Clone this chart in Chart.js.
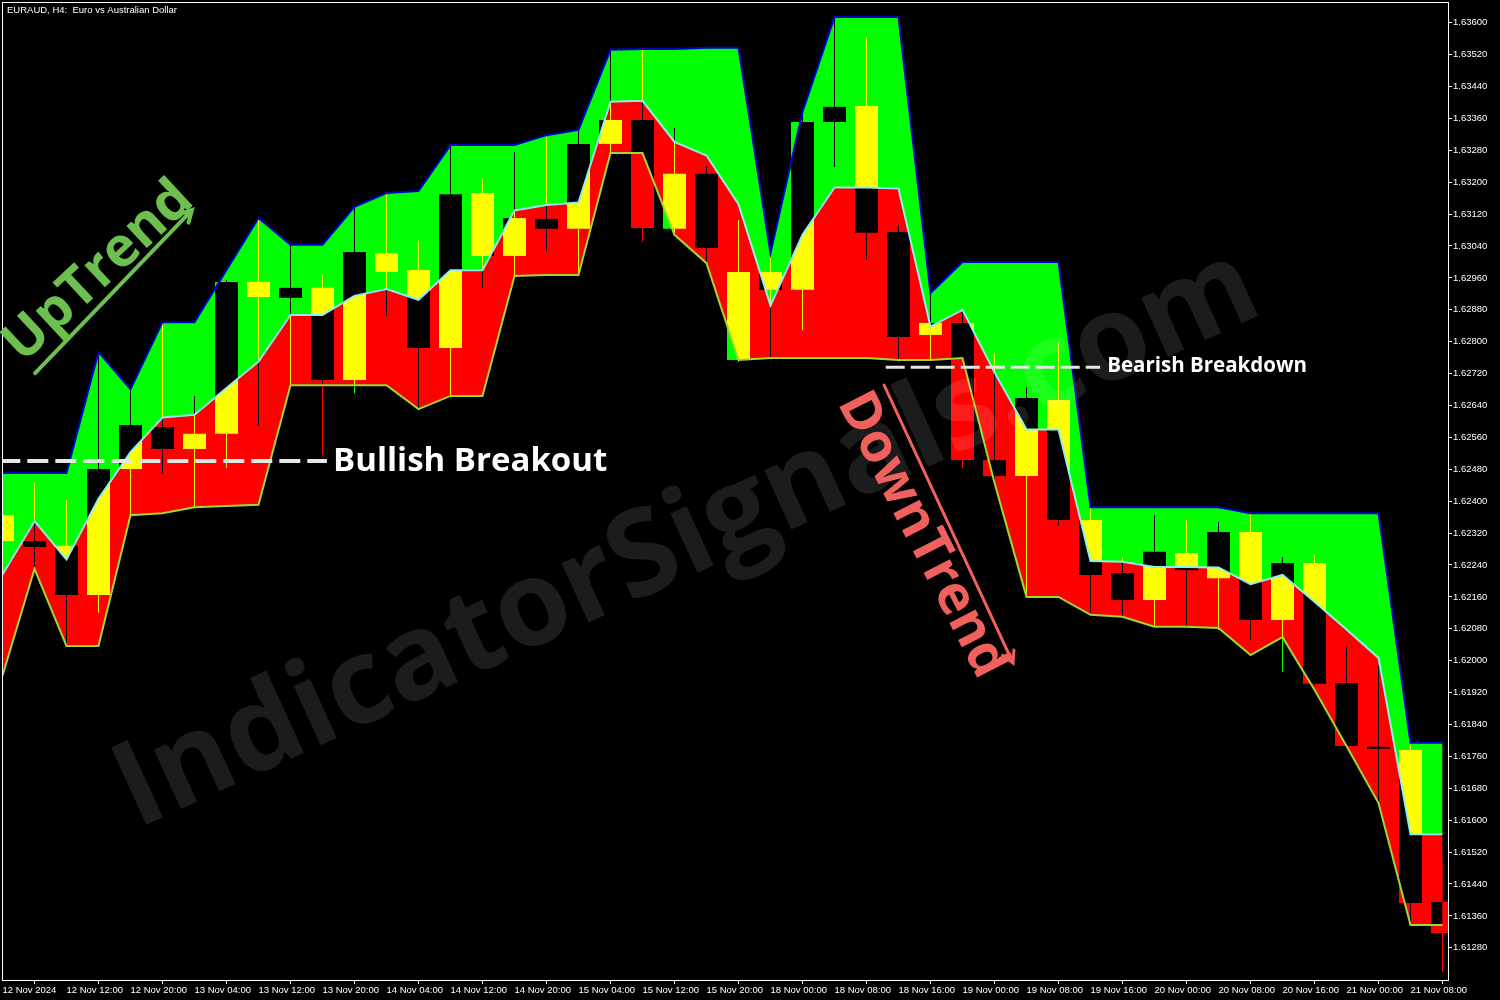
<!DOCTYPE html>
<html>
<head>
<meta charset="utf-8">
<script src="https://cdn.jsdelivr.net/npm/chart.js@4.4.1/dist/chart.umd.min.js"></script>
<style>
  html, body { margin: 0; padding: 0; background: #000; }
  canvas { display: block; }
</style>
</head>
<body>
<canvas id="chart" width="1500" height="1000"></canvas>
<script>
// EURAUD H4 - one entry per bar, tick label on every second bar
const timeLabels = [
  "12 Nov 2024", "12 Nov 12:00", "12 Nov 20:00", "13 Nov 04:00", "13 Nov 12:00",
  "13 Nov 20:00", "14 Nov 04:00", "14 Nov 12:00", "14 Nov 20:00", "15 Nov 04:00",
  "15 Nov 12:00", "15 Nov 20:00", "18 Nov 00:00", "18 Nov 08:00", "18 Nov 16:00",
  "19 Nov 00:00", "19 Nov 08:00", "19 Nov 16:00", "20 Nov 00:00", "20 Nov 08:00",
  "20 Nov 16:00", "21 Nov 00:00", "21 Nov 08:00"
];

const priceTicks = [
  1.6128, 1.6136, 1.6144, 1.6152, 1.6160, 1.6168, 1.6176, 1.6184, 1.6192, 1.6200,
  1.6208, 1.6216, 1.6224, 1.6232, 1.6240, 1.6248, 1.6256, 1.6264, 1.6272, 1.6280,
  1.6288, 1.6296, 1.6304, 1.6312, 1.6320, 1.6328, 1.6336, 1.6344, 1.6352, 1.6360
];

const opens = [
  1.62365, 1.62300, 1.62288, 1.62165, 1.62481, 1.62586, 1.62531, 1.62569, 1.62950, 1.62910,
  1.62935, 1.62704, 1.63022, 1.62980, 1.62784, 1.63173, 1.63015, 1.63108, 1.63083, 1.63296,
  1.63356, 1.63083, 1.63221, 1.62754, 1.62975, 1.62930, 1.63351, 1.63391, 1.63075, 1.62817,
  1.62847, 1.62503, 1.62463, 1.62654, 1.62353, 1.62220, 1.62152, 1.62270, 1.62207, 1.62323,
  1.62102, 1.62245, 1.61944, 1.61784, 1.61776, 1.61395
];
const highs = [
  1.62391, 1.62446, 1.62403, 1.62774, 1.62681, 1.62849, 1.62664, 1.62955, 1.63110, 1.63043,
  1.62967, 1.63138, 1.63170, 1.63053, 1.63293, 1.63208, 1.63276, 1.63313, 1.63328, 1.63532,
  1.63534, 1.63336, 1.63241, 1.63105, 1.63022, 1.63376, 1.63614, 1.63562, 1.63093, 1.62922,
  1.62875, 1.62772, 1.62686, 1.62797, 1.62385, 1.62258, 1.62365, 1.62353, 1.62348, 1.62370,
  1.62260, 1.62265, 1.62034, 1.61989, 1.61789, 1.61508
];
const lows = [
  1.62273, 1.62230, 1.62037, 1.62120, 1.62365, 1.62471, 1.62385, 1.62483, 1.62591, 1.62691,
  1.62516, 1.62671, 1.62864, 1.62631, 1.62664, 1.62935, 1.62965, 1.63027, 1.62967, 1.63273,
  1.63050, 1.63073, 1.62997, 1.62749, 1.62759, 1.62829, 1.63238, 1.63005, 1.62749, 1.62754,
  1.62483, 1.62446, 1.62160, 1.62340, 1.62120, 1.62110, 1.62085, 1.62085, 1.62077, 1.62052,
  1.61972, 1.61937, 1.61784, 1.61643, 1.61337, 1.61219
];
const closes = [
  1.62300, 1.62285, 1.62165, 1.62481, 1.62591, 1.62531, 1.62569, 1.62950, 1.62912, 1.62935,
  1.62704, 1.63025, 1.62975, 1.62784, 1.63170, 1.63015, 1.63110, 1.63083, 1.63296, 1.63356,
  1.63085, 1.63221, 1.63035, 1.62975, 1.62930, 1.63351, 1.63389, 1.63073, 1.62812, 1.62847,
  1.62503, 1.62463, 1.62659, 1.62353, 1.62215, 1.62152, 1.62273, 1.62227, 1.62323, 1.62102,
  1.62245, 1.61942, 1.61786, 1.61779, 1.61392, 1.61317
];

// channel indicator
const upperBand = [
  1.62471, 1.62471, 1.62471, 1.62774, 1.62681, 1.62849, 1.62849, 1.62980, 1.63110, 1.63043,
  1.63043, 1.63138, 1.63173, 1.63178, 1.63293, 1.63293, 1.63293, 1.63318, 1.63331, 1.63532,
  1.63534, 1.63534, 1.63537, 1.63537, 1.63022, 1.63376, 1.63614, 1.63614, 1.63614, 1.62922,
  1.63000, 1.63000, 1.63000, 1.63000, 1.62385, 1.62385, 1.62385, 1.62385, 1.62385, 1.62370,
  1.62370, 1.62370, 1.62370, 1.62370, 1.61794, 1.61794
];
const middleBand = [
  1.62216, 1.62350, 1.62254, 1.62406, 1.62523, 1.62610, 1.62617, 1.62684, 1.62750, 1.62867,
  1.62867, 1.62915, 1.62932, 1.62905, 1.62979, 1.62979, 1.63129, 1.63143, 1.63149, 1.63402,
  1.63404, 1.63301, 1.63267, 1.63145, 1.62891, 1.63068, 1.63187, 1.63187, 1.63184, 1.62838,
  1.62880, 1.62723, 1.62580, 1.62580, 1.62250, 1.62248, 1.62235, 1.62235, 1.62234, 1.62192,
  1.62215, 1.62148, 1.62078, 1.62007, 1.61565, 1.61565
];
const lowerBand = [
  1.61962, 1.62230, 1.62037, 1.62037, 1.62365, 1.62370, 1.62385, 1.62388, 1.62391, 1.62691,
  1.62691, 1.62691, 1.62691, 1.62631, 1.62664, 1.62664, 1.62965, 1.62967, 1.62967, 1.63273,
  1.63273, 1.63068, 1.62997, 1.62754, 1.62759, 1.62759, 1.62759, 1.62759, 1.62754, 1.62754,
  1.62759, 1.62446, 1.62160, 1.62160, 1.62115, 1.62110, 1.62085, 1.62085, 1.62082, 1.62014,
  1.62059, 1.61927, 1.61786, 1.61643, 1.61337, 1.61337
];

// annotation levels
const bullishLevel = 1.62501;
const bearishLevel = 1.62736;

const idx = opens.map((_, i) => i);
const bodies = idx.map(i => ({ x: i, y: [opens[i], closes[i]] }));
const upperWicks = idx.map(i => ({ x: i, y: [Math.max(opens[i], closes[i]), highs[i]] }));
const lowerWicks = idx.map(i => ({ x: i, y: [lows[i], Math.min(opens[i], closes[i])] }));
// MT draws candles XOR-ed over the fill: bull = green, bear = red, blended with 'difference'
const candleColors = idx.map(i => closes[i] >= opens[i] ? "#00ff00" : "#ff0000");
const band = arr => arr.map((v, i) => ({ x: i, y: v }));

const axisFont = { family: "Liberation Sans", size: 9.5 };

const backgroundPlugin = {
  id: "background",
  beforeDraw(chart) {
    const c = chart.ctx;
    c.save();
    c.fillStyle = "#000";
    c.fillRect(0, 0, chart.width, chart.height);
    c.restore();
  }
};

const blendPlugin = {
  id: "candleBlend",
  beforeDatasetDraw(chart, args) {
    if (chart.data.datasets[args.index].candle) {
      chart.ctx.save();
      chart.ctx.globalCompositeOperation = "difference";
    }
  },
  afterDatasetDraw(chart, args) {
    if (chart.data.datasets[args.index].candle) chart.ctx.restore();
  }
};

function rotatedText(c, text, x, y, deg, font, color) {
  c.save();
  c.translate(x, y);
  c.rotate(deg * Math.PI / 180);
  c.font = font;
  c.fillStyle = color;
  c.textAlign = "center";
  c.textBaseline = "middle";
  c.fillText(text, 0, 0);
  c.restore();
}

function arrow(c, x1, y1, x2, y2, color, width) {
  const a = Math.atan2(y2 - y1, x2 - x1);
  const head = 13;
  c.save();
  c.strokeStyle = color;
  c.lineWidth = width;
  c.lineCap = "round";
  c.beginPath();
  c.moveTo(x1, y1);
  c.lineTo(x2, y2);
  c.moveTo(x2 - head * Math.cos(a - 0.5), y2 - head * Math.sin(a - 0.5));
  c.lineTo(x2, y2);
  c.lineTo(x2 - head * Math.cos(a + 0.5), y2 - head * Math.sin(a + 0.5));
  c.stroke();
  c.restore();
}

const overlayPlugin = {
  id: "overlay",
  afterDatasetsDraw(chart) {
    const c = chart.ctx;
    const { x, y } = chart.scales;
    // watermark
    rotatedText(c, "IndicatorSignals.com", x.getPixelForValue(21.4), y.getPixelForValue(1.62303),
      -24.6, '700 119px "Open Sans"', "rgba(255,255,255,0.11)");
  },
  afterDraw(chart) {
    const c = chart.ctx;
    const { x, y } = chart.scales;
    const a = chart.chartArea;
    // frame
    c.save();
    c.strokeStyle = "#fff";
    c.lineWidth = 1;
    c.strokeRect(a.left + 0.5, a.top + 0.5, a.right - a.left, a.bottom - a.top);
    c.fillStyle = "#fff";
    c.font = '9.5px "Liberation Sans"';
    c.textBaseline = "middle";
    c.fillText("EURAUD, H4:  Euro vs Australian Dollar", 7, 10);
    c.restore();

    const px = v => x.getPixelForValue(v);
    const py = v => y.getPixelForValue(v);

    // trend labels
    rotatedText(c, "UpTrend", px(3.0), py(1.62975), -43, '700 55px "Open Sans"', "#6dbf4f");
    arrow(c, px(1.02), py(1.62721), px(5.92), py(1.63130), "#6dbf4f", 4);
    rotatedText(c, "DownTrend", px(28.73), py(1.62315), 63, '700 54px "Open Sans"', "#f0605c");
    arrow(c, px(27.55), py(1.62691), px(31.58), py(1.61994), "#f0605c", 3);

    c.save();
    c.fillStyle = "#fff";
    c.textAlign = "left";
    c.textBaseline = "middle";
    c.font = '700 33px "Open Sans"';
    c.fillText("Bullish Breakout", px(10.33), py(bullishLevel) + 1);
    c.font = '700 20.5px "Open Sans"';
    c.fillText("Bearish Breakdown", px(34.52), py(bearishLevel) - 1);
    c.restore();
  }
};

new Chart(document.getElementById("chart"), {
  type: "bar",
  data: {
    datasets: [
      {
        type: "line", label: "Bullish breakout", order: 0,
        data: [{ x: -0.1, y: bullishLevel }, { x: 10.14, y: bullishLevel }],
        borderColor: "#e6e6e6", borderWidth: 4, borderDash: [21, 7],
        pointRadius: 0, fill: false
      },
      {
        type: "line", label: "Bearish breakdown", order: 0,
        data: [{ x: 27.6, y: bearishLevel }, { x: 34.3, y: bearishLevel }],
        borderColor: "#e6e6e6", borderWidth: 3, borderDash: [19, 6],
        pointRadius: 0, fill: false
      },
      {
        type: "line", label: "Upper", order: 1,
        data: band(upperBand), borderColor: "#0000d0", borderWidth: 2,
        backgroundColor: "#00ff00", fill: "+1", pointRadius: 0, tension: 0
      },
      {
        type: "line", label: "Middle", order: 1,
        data: band(middleBand), borderColor: "#8cf0f0", borderWidth: 2,
        backgroundColor: "#ff0000", fill: "+1", pointRadius: 0, tension: 0
      },
      {
        type: "line", label: "Lower", order: 1,
        data: band(lowerBand), borderColor: "#a0d830", borderWidth: 2,
        fill: false, pointRadius: 0, tension: 0
      },
      {
        label: "Upper wick", candle: true, order: 2,
        data: upperWicks, backgroundColor: candleColors,
        barThickness: 1, grouped: false, inflateAmount: 0, borderWidth: 0
      },
      {
        label: "Lower wick", candle: true, order: 2,
        data: lowerWicks, backgroundColor: candleColors,
        barThickness: 1, grouped: false, inflateAmount: 0, borderWidth: 0
      },
      {
        label: "Body", candle: true, order: 2,
        data: bodies, backgroundColor: candleColors,
        barThickness: 23, grouped: false, inflateAmount: 0, borderWidth: 0, minBarLength: 2
      }
    ]
  },
  options: {
    responsive: false,
    animation: false,
    devicePixelRatio: 1,
    events: [],
    layout: { padding: { left: 2, top: 2, right: 0, bottom: 0 } },
    plugins: {
      legend: { display: false },
      tooltip: { enabled: false },
      filler: { drawTime: "beforeDatasetsDraw" }
    },
    scales: {
      x: {
        type: "linear", min: -0.015625, max: 45.171875, offset: false, bounds: "data",
        afterBuildTicks: s => { s.ticks = timeLabels.map((_, i) => ({ value: i * 2 })); },
        afterFit: s => { s.height = 20; s.paddingLeft = 0; s.paddingRight = 0; },
        grid: { display: true, drawOnChartArea: false, drawTicks: true, tickLength: 4, color: "#fff" },
        border: { display: true, color: "#fff" },
        ticks: {
          color: "#fff", font: axisFont, align: "start", maxRotation: 0, autoSkip: false, padding: 1,
          callback: v => timeLabels[Math.round(v / 2)]
        }
      },
      y: {
        type: "linear", position: "right", min: 1.611992, max: 1.636519, beginAtZero: false, bounds: "data",
        afterBuildTicks: s => { s.ticks = priceTicks.map(v => ({ value: v })); },
        afterFit: s => { s.width = 52; s.paddingTop = 0; s.paddingBottom = 0; },
        grid: { display: true, drawOnChartArea: false, drawTicks: true, tickLength: 4, color: "#fff" },
        border: { display: true, color: "#fff" },
        ticks: {
          color: "#fff", font: axisFont, padding: 1,
          callback: v => v.toFixed(5)
        }
      }
    }
  },
  plugins: [backgroundPlugin, blendPlugin, overlayPlugin]
});
</script>
</body>
</html>
